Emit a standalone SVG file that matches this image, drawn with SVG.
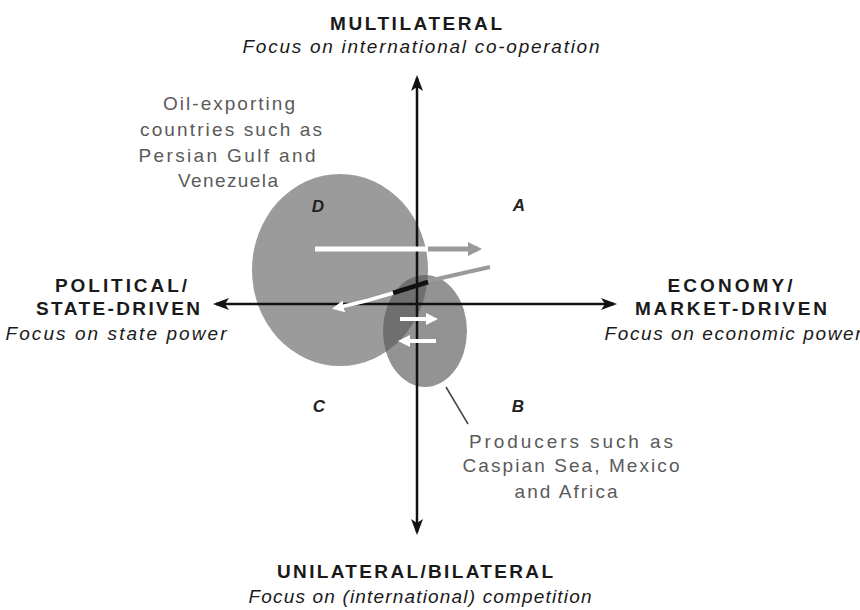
<svg xmlns="http://www.w3.org/2000/svg" width="860" height="610" viewBox="0 0 860 610">
  <style>
    .title { font-family: "Liberation Sans", Arial, sans-serif; font-weight: bold; font-size: 19px; fill: #1a1a1a; text-anchor: middle; }
    .sub { font-family: "Liberation Sans", Arial, sans-serif; font-style: italic; font-size: 19px; fill: #1a1a1a; text-anchor: middle; }
    .note { font-family: "Liberation Sans", Arial, sans-serif; font-size: 19px; fill: #5a5a5a; text-anchor: middle; }
    .quad { font-family: "Liberation Sans", Arial, sans-serif; font-weight: bold; font-style: italic; font-size: 17px; fill: #222; text-anchor: middle; }
    .axis { stroke: #111; stroke-width: 2.5; fill: none; }
  </style>
  <defs>
    <marker id="arrowBlack" viewBox="0 0 16 12" refX="13" refY="6" markerWidth="16" markerHeight="12" markerUnits="userSpaceOnUse" orient="auto">
      <path d="M0,0 L16,6 L0,12 L4,6 z" fill="#111"/>
    </marker>
    <marker id="arrowGray" viewBox="0 0 14 14" refX="10" refY="7" markerWidth="14" markerHeight="14" markerUnits="userSpaceOnUse" orient="auto">
      <path d="M0,0 L14,7 L0,14 z" fill="#9a9a9a"/>
    </marker>
    <marker id="arrowWhite" viewBox="0 0 12 12" refX="8" refY="6" markerWidth="12" markerHeight="12" markerUnits="userSpaceOnUse" orient="auto">
      <path d="M0,0 L12,6 L0,12 z" fill="#fff"/>
    </marker>
    <clipPath id="bigClip">
      <ellipse cx="340" cy="270" rx="88" ry="96"/>
    </clipPath>
  </defs>

  <rect width="860" height="610" fill="#fff"/>

  <!-- Quadrant regions -->
  <g id="region-oil-exporters">
    <ellipse cx="340" cy="270" rx="88" ry="96" fill="#9b9b9b"/>
  </g>
  <g id="region-producers">
    <ellipse cx="425" cy="331" rx="42" ry="56" fill="#939393"/>
    <ellipse cx="425" cy="331" rx="42" ry="56" fill="#6f6f6f" clip-path="url(#bigClip)"/>
  </g>

  <!-- Axes -->
  <g id="axes">
    <path class="axis" d="M417,304 L417,78" marker-end="url(#arrowBlack)"/>
    <path class="axis" d="M417,304 L417,532" marker-end="url(#arrowBlack)"/>
    <path class="axis" d="M417,304 L216,304" marker-end="url(#arrowBlack)"/>
    <path class="axis" d="M417,304 L614,304" marker-end="url(#arrowBlack)"/>
  </g>

  <!-- Movement arrows -->
  <g id="connectors">
    <!-- horizontal shift: white inside the circle, grey outside -->
    <path d="M315,249 L429,249" stroke="#fff" stroke-width="5" fill="none"/>
    <path d="M428,249 L478,249" stroke="#9a9a9a" stroke-width="5" fill="none" marker-end="url(#arrowGray)"/>
    <!-- diagonal shift toward the left -->
    <path d="M490,267 L428,281" stroke="#9a9a9a" stroke-width="4" fill="none"/>
    <path d="M428,282 L393,293" stroke="#111" stroke-width="4.5" fill="none"/>
    <path d="M393,293 Q365,302 336,308" stroke="#fff" stroke-width="3.5" fill="none" marker-end="url(#arrowWhite)"/>
    <!-- two-way exchange inside the producers region -->
    <path d="M400,319 L434,319" stroke="#fff" stroke-width="4" fill="none" marker-end="url(#arrowWhite)"/>
    <path d="M436,341 L402,341" stroke="#fff" stroke-width="4" fill="none" marker-end="url(#arrowWhite)"/>
    <!-- leader to the producers label -->
    <path d="M446,387 L468,424" stroke="#444" stroke-width="1.5" fill="none"/>
  </g>

  <!-- Axis labels -->
  <g id="label-top">
    <text class="title" x="416" y="30" textLength="172" lengthAdjust="spacing">MULTILATERAL</text>
    <text class="sub" x="421" y="53" textLength="357" lengthAdjust="spacing">Focus on international co-operation</text>
  </g>
  <g id="label-left">
    <text class="title" x="121" y="292" textLength="132" lengthAdjust="spacing">POLITICAL/</text>
    <text class="title" x="118" y="315" textLength="164" lengthAdjust="spacing">STATE-DRIVEN</text>
    <text class="sub" x="116" y="340" textLength="221" lengthAdjust="spacing">Focus on state power</text>
  </g>
  <g id="label-right">
    <text class="title" x="730" y="292" textLength="125" lengthAdjust="spacing">ECONOMY/</text>
    <text class="title" x="731" y="315" textLength="192" lengthAdjust="spacing">MARKET-DRIVEN</text>
    <text class="sub" x="733" y="340" textLength="257" lengthAdjust="spacing">Focus on economic power</text>
  </g>
  <g id="label-bottom">
    <text class="title" x="415" y="578" textLength="276" lengthAdjust="spacing">UNILATERAL/BILATERAL</text>
    <text class="sub" x="420" y="603" textLength="343" lengthAdjust="spacing">Focus on (international) competition</text>
  </g>

  <!-- Quadrant letters -->
  <g id="quadrant-a"><text class="quad" x="519" y="211">A</text></g>
  <g id="quadrant-b"><text class="quad" x="518" y="412">B</text></g>
  <g id="quadrant-c"><text class="quad" x="319" y="412">C</text></g>
  <g id="quadrant-d"><text class="quad" x="318" y="212">D</text></g>

  <!-- Annotations -->
  <g id="note-oil">
    <text class="note" x="229" y="110" textLength="132" lengthAdjust="spacing">Oil-exporting</text>
    <text class="note" x="231" y="136" textLength="182" lengthAdjust="spacing">countries such as</text>
    <text class="note" x="227" y="162" textLength="177" lengthAdjust="spacing">Persian Gulf and</text>
    <text class="note" x="228" y="187" textLength="100" lengthAdjust="spacing">Venezuela</text>
  </g>
  <g id="note-producers">
    <text class="note" x="571" y="448" textLength="204" lengthAdjust="spacing">Producers such as</text>
    <text class="note" x="571" y="472" textLength="217" lengthAdjust="spacing">Caspian Sea, Mexico</text>
    <text class="note" x="566" y="498" textLength="103" lengthAdjust="spacing">and Africa</text>
  </g>
</svg>
